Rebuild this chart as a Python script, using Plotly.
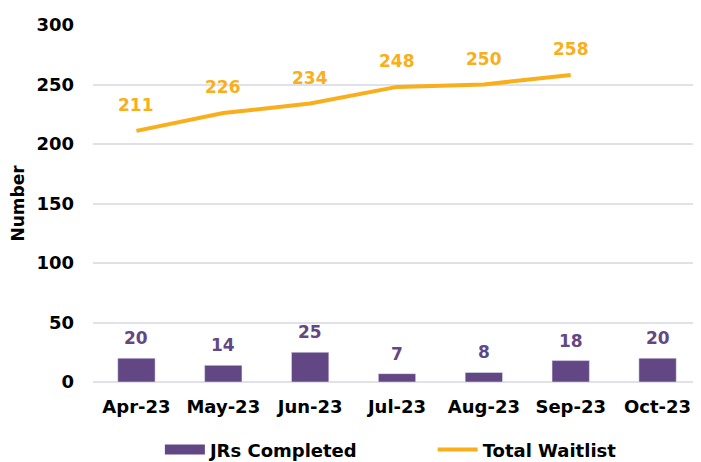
import plotly.graph_objects as go

months = ["Apr-23", "May-23", "Jun-23", "Jul-23", "Aug-23", "Sep-23", "Oct-23"]
jrs_completed = [20, 14, 25, 7, 8, 18, 20]
total_waitlist = [211, 226, 234, 248, 250, 258, None]

purple = "#634785"
orange = "#F9AE1B"
font_family = "'DejaVu Sans', sans-serif"

fig = go.Figure()
fig.add_trace(go.Bar(
    x=months, y=jrs_completed, name="JRs Completed",
    marker_color=purple, width=0.43, showlegend=False,
))
# legend entry for bars (wide swatch like reference)
fig.add_trace(go.Scatter(
    x=[None], y=[None], name="JRs Completed" + "\u00a0" * 11, mode="lines",
    line=dict(color=purple, width=12), showlegend=True,
))
fig.add_trace(go.Scatter(
    x=months, y=total_waitlist, name="Total Waitlist",
    mode="lines", line=dict(color=orange, width=4),
))
for m, v in zip(months, jrs_completed):
    fig.add_annotation(x=m, y=v, text=str(v), showarrow=False, yshift=20,
                       font=dict(color=purple, size=17, family=font_family, weight="bold"))
for m, v in zip(months, total_waitlist):
    if v is not None:
        fig.add_annotation(x=m, y=v, text=str(v), showarrow=False, yshift=26,
                           font=dict(color=orange, size=17, family=font_family, weight="bold"))

fig.update_layout(
    width=693, height=454,
    margin=dict(l=85, r=0, t=17, b=80, autoexpand=False),
    plot_bgcolor="white", paper_bgcolor="white",
    font=dict(family=font_family, size=17, color="black", weight="bold"),
    showlegend=True,
    legend=dict(orientation="h", x=0.11, xanchor="left", y=-0.19, yanchor="middle",
                font=dict(size=18, weight="bold"), itemwidth=40, tracegroupgap=0),
    xaxis=dict(showgrid=False, showline=False, ticks="", automargin=False,
               tickfont=dict(size=18, weight="bold"), ticklabelstandoff=12),
    yaxis=dict(range=[0, 300], dtick=50, showgrid=True, gridcolor="#E1E1EA", gridwidth=1.5,
               zeroline=True, zerolinecolor="#E1E1EA", zerolinewidth=1.5, automargin=False,
               tickfont=dict(size=18, weight="bold"), ticklabelstandoff=18,
               title=dict(text="Number", font=dict(size=17, weight="bold"), standoff=10)),
)

fig.write_html("out.html")
